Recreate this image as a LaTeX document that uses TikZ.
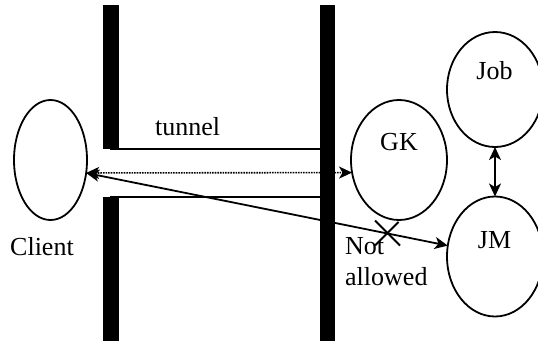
\documentclass[tikz,border=0pt]{standalone}
\usepackage{fontspec}
\setmainfont{Liberation Serif}
\usetikzlibrary{shapes.geometric,arrows.meta,calc}
\begin{document}
\begin{tikzpicture}[x=1pt,y=-1pt,
  every node/.style={font=\fontsize{26}{31}\selectfont},
  party/.style={draw,ellipse,line width=1.8pt,inner sep=0pt,outer sep=0pt},
  wall/.style={fill=black},
  tube/.style={line width=2pt},
  tip/.style={Stealth[length=13pt,width=12pt,inset=3.5pt]},
  link/.style={line width=1.8pt,{Stealth[length=13pt,width=12pt,inset=3.5pt]}-{Stealth[length=13pt,width=12pt,inset=3.5pt]}},
  caption/.style={inner sep=0pt,anchor=base west}]
  \useasboundingbox (0,0) rectangle (538,343);

  % firewall walls
  \fill[wall] (103,5) rectangle (119,148.5);
  \fill[wall] (103,196.5) rectangle (119,341);
  \fill[wall] (319.5,5) rectangle (335,341);

  % tunnel walls
  \draw[tube] (110,148.5) -- (320,148.5);
  \draw[tube] (110,196.5) -- (320,196.5);

  % hosts
  \node[party,minimum width=73pt,minimum height=120pt] (client) at (50.5,160) {};
  \node[party,minimum width=96pt,minimum height=120pt] (gk) at (399,160) {};
  \node[party,minimum width=96pt,minimum height=115pt] (job) at (495,89.5) {};
  \node[party,minimum width=96pt,minimum height=120pt] (jm) at (495,256.5) {};

  % labels
  \node[caption] (clientlbl) at (10,255) {Client};
  \node[caption] (tunnellbl) at (155,135) {tunnel};
  \node[inner sep=0pt,anchor=base] (gklbl) at (399,150.5) {GK};
  \node[inner sep=0pt,anchor=base] (joblbl) at (494.5,79) {Job};
  \node[inner sep=0pt,anchor=base] (jmlbl) at (494.5,248) {JM};
  \node[caption] (notlbl) at (345,254) {Not};
  \node[caption] (allowedlbl) at (345,285) {allowed};

  % connections
  \draw[link,line width=1.6pt,densely dotted] (client.-20) -- (gk.195.5);
  \draw[link] (client.-20) -- (jm.167.5);
  \draw[link] (job.south) -- (jm.north);

  % blocked path from the gatekeeper
  \coordinate (xc) at (387.5,233);
  \draw[line width=1.8pt] ($(xc)+(-12.5,-12.5)$) -- ($(xc)+(12.5,12.5)$);
  \draw[line width=1.8pt] ($(xc)+(11,-11)$) -- ($(xc)+(-12.5,12.5)$);
\end{tikzpicture}
\end{document}
